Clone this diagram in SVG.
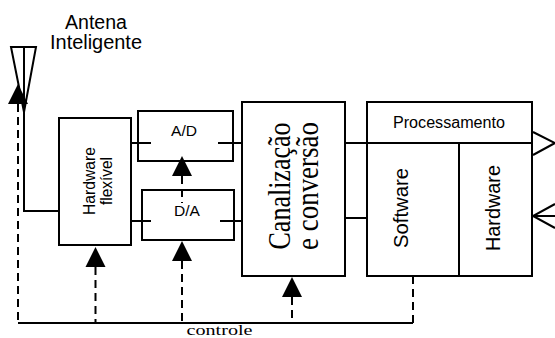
<svg xmlns="http://www.w3.org/2000/svg" width="555" height="338" viewBox="0 0 555 338">
<style>
.box{fill:#fff;stroke:#000;stroke-width:2}
.ln{fill:none;stroke:#000;stroke-width:2}
.dash{fill:none;stroke:#000;stroke-width:2;stroke-dasharray:8 5}
.ah{fill:#000;stroke:none}
.sans{font-family:"Liberation Sans",Arial,sans-serif;fill:#000;text-anchor:middle}
.serif{font-family:"Liberation Serif","Times New Roman",serif;fill:#000;text-anchor:middle}
</style>
<rect width="555" height="338" fill="#fff"/>
<g id="antena">
<polygon points="11,47 36,47 24,112" fill="none" stroke="#000" stroke-width="2"/>
<text class="sans" x="96" y="29" font-size="20" textLength="62" lengthAdjust="spacingAndGlyphs">Antena</text>
<text class="sans" x="96" y="49" font-size="20" textLength="92" lengthAdjust="spacingAndGlyphs">Inteligente</text>
</g>
<g id="hardware-flexivel">
<rect class="box" x="59" y="118" width="72" height="127"/>
<text class="sans" font-size="16" transform="translate(95,181) rotate(-90)" textLength="68" lengthAdjust="spacingAndGlyphs">Hardware</text>
<text class="sans" font-size="16" transform="translate(111.5,181) rotate(-90)" textLength="48" lengthAdjust="spacingAndGlyphs">flexível</text>
</g>
<g id="ad">
<rect class="box" x="138" y="111" width="95" height="50"/>
<text class="sans" x="184" y="136" font-size="15" textLength="26" lengthAdjust="spacingAndGlyphs">A/D</text>
</g>
<g id="da">
<rect class="box" x="142" y="190" width="92" height="50"/>
<text class="sans" x="187" y="216" font-size="15" textLength="26" lengthAdjust="spacingAndGlyphs">D/A</text>
</g>
<g id="canalizacao">
<rect class="box" x="242" y="102" width="103" height="174"/>
<text class="serif" font-size="31" transform="translate(290,186) rotate(-90)" textLength="127" lengthAdjust="spacingAndGlyphs">Canalização</text>
<text class="serif" font-size="31" transform="translate(317.5,186) rotate(-90)" textLength="128" lengthAdjust="spacingAndGlyphs">e conversão</text>
</g>
<g id="processamento">
<rect class="box" x="367" y="102" width="165" height="174"/>
<line class="ln" x1="459" y1="143" x2="459" y2="276"/>
<text class="sans" x="449" y="127.5" font-size="16" textLength="112" lengthAdjust="spacingAndGlyphs">Processamento</text>
<text class="sans" font-size="21" transform="translate(408,208) rotate(-90)" textLength="80" lengthAdjust="spacingAndGlyphs">Software</text>
<text class="sans" font-size="21" transform="translate(500,208) rotate(-90)" textLength="86" lengthAdjust="spacingAndGlyphs">Hardware</text>
</g>
<g id="connectors">
<polyline class="ln" points="24,47 24,211 59,211"/>
<line class="ln" x1="131" y1="143" x2="151" y2="143"/>
<line class="ln" x1="218" y1="143" x2="242" y2="143"/>
<line class="ln" x1="131" y1="221" x2="151" y2="221"/>
<line class="ln" x1="220" y1="221" x2="242" y2="221"/>
<line class="ln" x1="345" y1="143" x2="532" y2="143"/>
<line class="ln" x1="345" y1="218" x2="367" y2="218"/>
<polyline class="ln" points="533,132 555,143 533,155"/>
<line class="ln" x1="533" y1="216" x2="555" y2="216"/>
<polyline class="ln" points="555,204 533,216 555,228"/>
<polyline class="ln" points="18,323 413,323"/>
<line class="dash" x1="18" y1="104" x2="18" y2="323"/>
<line class="dash" x1="95.5" y1="267" x2="95.5" y2="323"/>
<line class="dash" x1="182" y1="261" x2="182" y2="323"/>
<line class="dash" x1="292" y1="297" x2="292" y2="323"/>
<line class="dash" x1="413" y1="276" x2="413" y2="323"/>
<line class="dash" x1="182" y1="176" x2="182" y2="203"/>
<polygon class="ah" points="18,84 28,104 8,104"/>
<polygon class="ah" points="95.5,247 105.5,267 85.5,267"/>
<polygon class="ah" points="182,241 192,261 172,261"/>
<polygon class="ah" points="292,277 302,297 282,297"/>
<polygon class="ah" points="182,156 192,176 172,176"/>
<text class="serif" x="219.5" y="334.5" font-size="15" textLength="66" lengthAdjust="spacingAndGlyphs">controle</text>
</g>
</svg>
